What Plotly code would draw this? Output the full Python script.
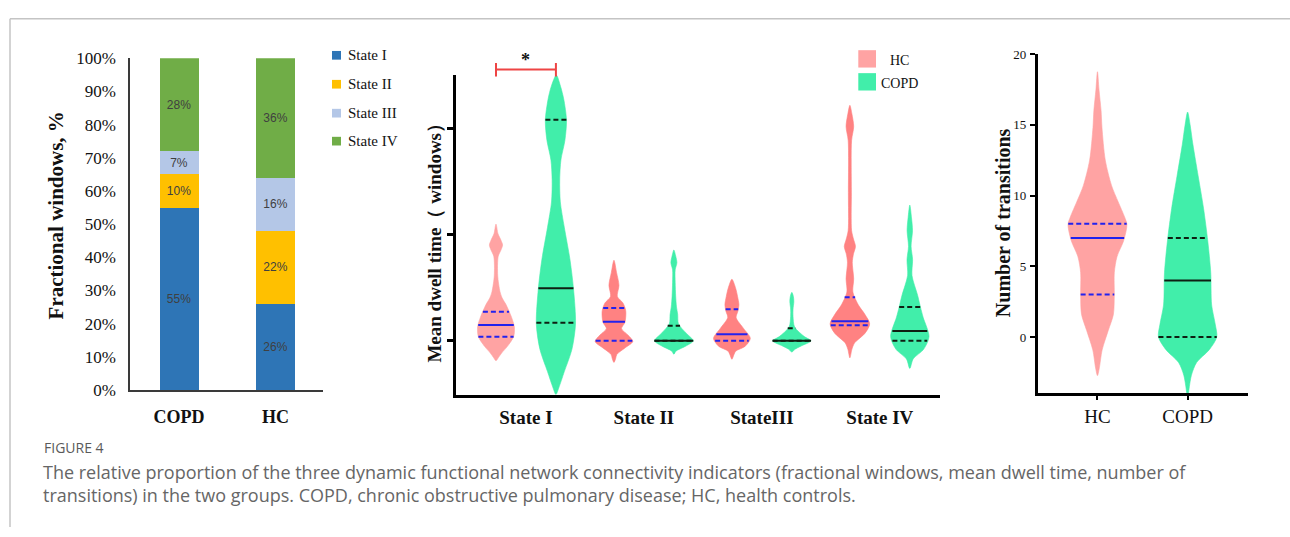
import numpy as np
import plotly.graph_objects as go

W, H = 1290, 537
SERIF = "Liberation Serif, Times New Roman, serif"

# ---------------- Panel A: fractional windows (stacked bars) ----------------
groups_a = ["COPD", "HC"]
states_a = ["State I", "State II", "State III", "State IV"]
frac_copd = [55, 10, 7, 28]
frac_hc = [26, 22, 16, 36]
state_colors = ["#2E75B6", "#FFC000", "#B4C7E7", "#70AD47"]
pct_ticks = [0, 10, 20, 30, 40, 50, 60, 70, 80, 90, 100]

# ---------------- Panel B: mean dwell time (violins) ----------------
dwell_states = ["State I", "State II", "StateIII", "State IV"]
dwell_ticks = [0, 10, 20]
# density profiles: value levels (ascending) and relative density
dwell_hc_y = [
    [-1.88, -1.58, -1.13, -0.52, 0.39, 1.3, 2.21, 3.42, 4.03, 4.64, 6.15, 7.96, 8.57, 9.03, 9.48, 10.09, 11.0],
    [-2.03, -1.7, -1.27, -0.67, -0.06, 0.55, 1.15, 1.75, 2.82, 3.57, 4.18, 5.24, 6.45, 7.6],
    [-1.73, -1.3, -0.97, -0.5, 0.24, 1.15, 2.2, 2.8, 3.4, 4.2, 4.94, 5.8],
    [-1.6, -0.8, -0.2, 0.7, 1.6, 2.5, 3.4, 4.6, 5.85, 7.4, 8.2, 8.9, 9.6, 10.4, 14.0, 18.9, 20.2, 21.4, 22.2],
]
dwell_hc_d = [
    [0.0, 0.12, 0.29, 0.57, 0.88, 0.92, 0.78, 0.5, 0.31, 0.2, 0.085, 0.11, 0.25, 0.33, 0.25, 0.1, 0.0],
    [0.0, 0.08, 0.15, 0.55, 0.94, 0.7, 0.38, 0.55, 0.59, 0.45, 0.17, 0.25, 0.13, 0.0],
    [0.0, 0.1, 0.19, 0.67, 0.92, 0.59, 0.21, 0.3, 0.35, 0.28, 0.19, 0.0],
    [0.0, 0.1, 0.23, 0.75, 0.99, 0.75, 0.42, 0.15, 0.19, 0.12, 0.18, 0.28, 0.18, 0.085, 0.075, 0.085, 0.19, 0.1, 0.0],
]
dwell_copd_y = [
    [-5.06, -4.45, -2.9, -0.8, 1.6, 4.9, 7.7, 10.7, 13.1, 15.2, 17.05, 18.9, 20.8, 22.8, 24.0, 25.05],
    [-1.27, -0.97, -0.5, 0.0, 0.7, 1.6, 2.5, 3.2, 4.2, 5.5, 6.7, 7.36, 8.0, 8.57],
    [-1.06, -0.8, -0.5, 0.0, 0.4, 1.3, 2.3, 3.0, 3.7, 4.2, 4.57],
    [-2.6, -1.7, -0.8, 0.4, 2.2, 3.2, 4.3, 6.15, 7.66, 8.9, 10.4, 11.6, 12.8],
]
dwell_copd_d = [
    [0.0, 0.14, 0.42, 0.8, 0.98, 0.88, 0.7, 0.42, 0.22, 0.19, 0.25, 0.45, 0.53, 0.39, 0.23, 0.02],
    [0.0, 0.1, 0.59, 0.97, 0.63, 0.23, 0.19, 0.13, 0.09, 0.065, 0.065, 0.15, 0.09, 0.0],
    [0.0, 0.15, 0.45, 0.96, 0.63, 0.14, 0.06, 0.06, 0.1, 0.075, 0.0],
    [0.0, 0.17, 0.69, 0.96, 0.67, 0.53, 0.39, 0.11, 0.14, 0.065, 0.135, 0.085, 0.0],
]
dwell_hc_q1 = [0.39, 0.0, 0.0, 1.48]
dwell_hc_med = [1.5, 1.8, 0.63, 1.85]
dwell_hc_q3 = [2.75, 3.1, 2.97, 4.1]
dwell_copd_q1 = [1.7, 0.0, 0.0, 0.0]
dwell_copd_med = [4.95, 0.0, 0.0, 0.94]
dwell_copd_q3 = [20.85, 1.42, 1.18, 3.2]

# ---------------- Panel C: number of transitions (violins) ----------------
trans_groups = ["HC", "COPD"]
trans_ticks = [0, 5, 10, 15, 20]
trans_hc_y = [-2.73, -2.25, -0.9, 0.47, 1.6, 2.95, 4.55, 5.68, 6.8, 7.95, 8.5, 9.55, 10.7, 12.5, 14.8, 16.0, 17.5, 18.75]
trans_hc_d = [0.0, 0.057, 0.157, 0.36, 0.53, 0.56, 0.56, 0.65, 0.87, 0.98, 0.9, 0.69, 0.47, 0.26, 0.15, 0.12, 0.05, 0.0]
trans_copd_y = [-3.95, -2.7, -1.8, -0.9, 0.0, 0.9, 2.27, 4.55, 6.8, 9.1, 11.4, 13.6, 15.0, 15.9]
trans_copd_d = [0.03, 0.127, 0.3, 0.72, 0.97, 0.92, 0.8, 0.77, 0.67, 0.53, 0.35, 0.177, 0.083, 0.0]
trans_q1 = [3, 0]
trans_med = [7, 4]
trans_q3 = [8, 7]

# ---------------- styling ----------------
HC_LIGHT = "#FFA3A3"
HC_DARK = "#FF8282"
COPD_GREEN = "#41EEAA"
HC_LINE = "#2222EE"
COPD_LINE = "#0E1F12"
OFFSET = 0.254          # dodge of the two groups in panel B (x units)
SCALE_B = 20 / 118      # density -> half width (x units) in panel B
SCALE_C = 30 / 90       # density -> half width (x units) in panel C


def px(x):
    return x / W


def py(y):
    return 1 - y / H


fig = go.Figure()

# Panel A bars
for i, st in enumerate(states_a):
    vals = [frac_copd[i], frac_hc[i]]
    fig.add_trace(go.Bar(
        x=groups_a, y=vals, name=st, marker=dict(color=state_colors[i], line=dict(width=0)),
        width=0.404, text=[f"{v}%" for v in vals], textposition="inside",
        insidetextanchor="middle", textangle=0,
        insidetextfont=dict(family="Liberation Sans, Arial", size=12, color="#404040"),
        xaxis="x", yaxis="y", showlegend=False, hoverinfo="skip"))


def violin(center, ys, ds, scale, color, xa, ya):
    ys = np.asarray(ys, float)
    ws = np.asarray(ds, float) * scale
    xs = np.concatenate([center + ws, (center - ws)[::-1][1:]])
    yy = np.concatenate([ys, ys[::-1][1:]])
    fig.add_trace(go.Scatter(
        x=xs, y=yy, mode="lines", fill="toself", fillcolor=color,
        line=dict(color=color, width=0.6, shape="spline", smoothing=0.8),
        xaxis=xa, yaxis=ya, showlegend=False, hoverinfo="skip"))
    return ys, ws


def qline(center, ys, ws, q, color, dash, xa, ya):
    w = float(np.interp(q, ys, ws))
    fig.add_trace(go.Scatter(
        x=[center - w, center + w], y=[q, q], mode="lines",
        line=dict(color=color, width=2, dash=dash),
        xaxis=xa, yaxis=ya, showlegend=False, hoverinfo="skip"))


# Panel B violins
for i in range(4):
    c_hc = (i + 1) - OFFSET
    c_cp = (i + 1) + OFFSET
    col = HC_LIGHT if i == 0 else HC_DARK
    ys, ws = violin(c_hc, dwell_hc_y[i], dwell_hc_d[i], SCALE_B, col, "x2", "y2")
    qline(c_hc, ys, ws, dwell_hc_q1[i], HC_LINE, "5px,3px", "x2", "y2")
    qline(c_hc, ys, ws, dwell_hc_q3[i], HC_LINE, "5px,3px", "x2", "y2")
    qline(c_hc, ys, ws, dwell_hc_med[i], HC_LINE, "solid", "x2", "y2")
    ys, ws = violin(c_cp, dwell_copd_y[i], dwell_copd_d[i], SCALE_B, COPD_GREEN, "x2", "y2")
    qline(c_cp, ys, ws, dwell_copd_q1[i], COPD_LINE, "5px,3px", "x2", "y2")
    qline(c_cp, ys, ws, dwell_copd_q3[i], COPD_LINE, "5px,3px", "x2", "y2")
    qline(c_cp, ys, ws, dwell_copd_med[i], COPD_LINE, "solid", "x2", "y2")

# Panel C violins
for i, (yv, dv, col, lc) in enumerate([(trans_hc_y, trans_hc_d, HC_LIGHT, HC_LINE),
                                       (trans_copd_y, trans_copd_d, COPD_GREEN, COPD_LINE)]):
    ys, ws = violin(i, yv, dv, SCALE_C, col, "x3", "y3")
    qline(i, ys, ws, trans_q1[i], lc, "5px,3px", "x3", "y3")
    qline(i, ys, ws, trans_q3[i], lc, "5px,3px", "x3", "y3")
    qline(i, ys, ws, trans_med[i], lc, "solid", "x3", "y3")

axis_common = dict(showgrid=False, zeroline=False, showline=True)

fig.update_layout(
    width=W, height=H, margin=dict(l=0, r=0, t=0, b=0),
    paper_bgcolor="white", plot_bgcolor="white", showlegend=False, barmode="stack",
    font=dict(family=SERIF, color="#111111"),
    xaxis=dict(**axis_common, domain=[px(130), px(323)], range=[-0.508, 1.492], anchor="y",
               type="category", tickvals=groups_a, ticktext=[f"<b>{g}</b>" for g in groups_a],
               ticks="", linecolor="#3a3a3a", linewidth=1.5, ticklabelstandoff=10,
               tickfont=dict(family=SERIF, size=18, color="#111")),
    yaxis=dict(**axis_common, domain=[py(395), py(51)], range=[0, 100], anchor="x",
               tickvals=pct_ticks, ticktext=[f"{v}%" for v in pct_ticks], ticks="",
               linecolor="#3a3a3a", linewidth=1.5,
               ticklabelstandoff=9, tickfont=dict(family=SERIF, size=17, color="#111")),
    xaxis2=dict(**axis_common, domain=[px(456), px(940)], range=[0.407, 4.51], anchor="y2",
                tickvals=[1, 2, 3, 4], ticktext=[f"<b>{s}</b>" for s in dwell_states],
                ticks="", linecolor="black", linewidth=2.5, ticklabelstandoff=4,
                tickfont=dict(family=SERIF, size=19, color="#111")),
    yaxis2=dict(**axis_common, domain=[py(400), py(68)], range=[-5.09, 25.1], anchor="x2",
                tickvals=dwell_ticks, showticklabels=False, ticks="outside", ticklen=6,
                tickwidth=2.5, tickcolor="black", linecolor="black", linewidth=2.5),
    xaxis3=dict(**axis_common, domain=[px(1037.7), px(1248)], range=[-0.663, 1.67], anchor="y3",
                tickvals=[0, 1], ticktext=trans_groups, ticks="outside", ticklen=4, tickwidth=2,
                tickcolor="black", linecolor="black", linewidth=2.5, ticklabelstandoff=1,
                tickfont=dict(family=SERIF, size=19, color="#111")),
    yaxis3=dict(**axis_common, domain=[py(398), py(46.7)], range=[-3.95, 20], anchor="x3",
                tickvals=trans_ticks, ticks="outside", ticklen=5, tickwidth=2, tickcolor="black",
                linecolor="black", linewidth=2.5, ticklabelstandoff=1,
                tickfont=dict(family=SERIF, size=13, color="#111")),
)

shapes = []
annotations = []

# frame lines
shapes.append(dict(type="line", xref="paper", yref="paper", x0=px(10), x1=px(10), y0=py(10), y1=0,
                   line=dict(color="#c4c4c4", width=1.5)))
shapes.append(dict(type="line", xref="paper", yref="paper", x0=px(10), x1=1, y0=py(10), y1=py(10),
                   line=dict(color="#c4c4c4", width=1.5)))

# Panel A legend
leg_y = [48, 78, 108, 137]
for st, col, yy in zip(states_a, state_colors, leg_y):
    shapes.append(dict(type="rect", xref="paper", yref="paper", x0=px(332), x1=px(341),
                       y0=py(yy + 4.5), y1=py(yy - 4.5), fillcolor=col, line=dict(width=0)))
    annotations.append(dict(x=px(346), y=py(yy), xref="paper", yref="paper", text=st,
                            showarrow=False, xanchor="left", yanchor="middle",
                            font=dict(family=SERIF, size=15, color="#111")))

# Panel B legend
for name, col, yy in [("HC", HC_LIGHT, 51.7), ("COPD", COPD_GREEN, 75.5)]:
    shapes.append(dict(type="rect", xref="paper", yref="paper", x0=px(858.3), x1=px(876),
                       y0=py(yy + 9), y1=py(yy - 9), fillcolor=col, line=dict(width=0)))
    annotations.append(dict(x=px(899), y=py(yy + 1.5), xref="paper", yref="paper", text=name,
                            showarrow=False, xanchor="center", yanchor="middle",
                            font=dict(family=SERIF, size=14, color="#111")))

# significance bracket (State I)
br_col = "#EE4444"
shapes.append(dict(type="line", xref="x2", yref="paper", x0=1 - OFFSET, x1=1 + OFFSET,
                   y0=py(62.7), y1=py(62.7), line=dict(color=br_col, width=2)))
for xx in (1 - OFFSET, 1 + OFFSET):
    shapes.append(dict(type="line", xref="x2", yref="paper", x0=xx, x1=xx,
                       y0=py(56), y1=py(70), line=dict(color=br_col, width=2)))
annotations.append(dict(x=1, y=py(53), xref="x2", yref="paper", text="<b>*</b>", showarrow=False,
                        xanchor="center", yanchor="middle", font=dict(family=SERIF, size=18, color="#111")))

# axis titles
annotations.append(dict(x=px(56), y=py(214), xref="paper", yref="paper", text="<b>Fractional windows, %</b>",
                        textangle=-90, showarrow=False, xanchor="center", yanchor="middle",
                        font=dict(family=SERIF, size=21, color="#111")))
annotations.append(dict(x=px(435), y=py(238), xref="paper", yref="paper",
                        text="<b>Mean dwell time（ windows）</b>",
                        textangle=-90, showarrow=False, xanchor="center", yanchor="middle",
                        font=dict(family=SERIF, size=19, color="#111")))
annotations.append(dict(x=px(1003), y=py(222), xref="paper", yref="paper", text="<b>Number of transitions</b>",
                        textangle=-90, showarrow=False, xanchor="center", yanchor="middle",
                        font=dict(family=SERIF, size=20, color="#111")))

# caption
CAP = "Open Sans, Noto Sans, sans-serif"
annotations.append(dict(x=px(42), y=py(455), xref="paper", yref="paper", text="FIGURE 4",
                        showarrow=False, xanchor="left", yanchor="middle",
                        font=dict(family=CAP, size=14, color="#5a5a5a")))
annotations.append(dict(x=px(41), y=py(480), xref="paper", yref="paper",
                        text="The relative proportion of the three dynamic functional network connectivity indicators (fractional windows, mean dwell time, number of",
                        showarrow=False, xanchor="left", yanchor="middle",
                        font=dict(family=CAP, size=18, color="#666666")))
annotations.append(dict(x=px(41), y=py(504), xref="paper", yref="paper",
                        text="transitions) in the two groups. COPD, chronic obstructive pulmonary disease; HC, health controls.",
                        showarrow=False, xanchor="left", yanchor="middle",
                        font=dict(family=CAP, size=18, color="#666666")))

fig.update_layout(shapes=shapes, annotations=annotations)

page_fix = (
    "document.documentElement.style.margin='0';document.documentElement.style.padding='0';"
    "document.documentElement.style.overflow='hidden';"
    "document.body.style.margin='0';document.body.style.padding='0';"
    "document.body.style.overflow='hidden';document.body.style.height='537px';"
    "var gd=document.getElementById('{plot_id}');"
    "gd.style.position='absolute';gd.style.left='0px';gd.style.top='0px';"
)
fig.write_html("out.html", config={"displayModeBar": False}, post_script=page_fix)
